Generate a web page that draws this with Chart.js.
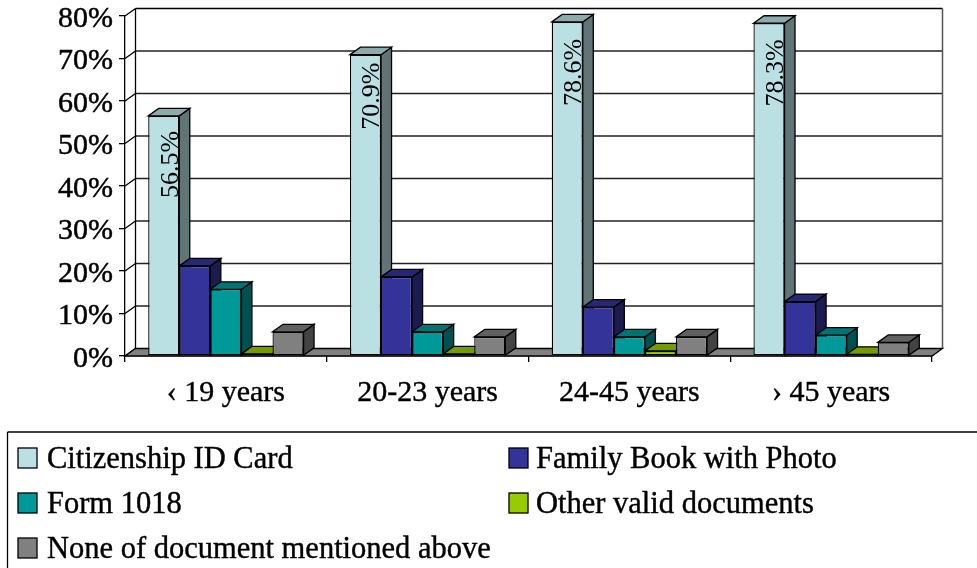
<!DOCTYPE html>
<html>
<head>
<meta charset="utf-8">
<title>Documents by age group</title>
<style>
  html, body { margin: 0; padding: 0; background: #fff; overflow: hidden; }
  canvas { display: block; }
</style>
<script src="https://cdn.jsdelivr.net/npm/chart.js@4/dist/chart.umd.min.js"></script>
</head>
<body>
<canvas id="chart" width="977" height="568"></canvas>
<script>
const categories = ['\u2039 19 years', '20-23 years', '24-45 years', '\u203A 45 years'];
const seriesNames = ['Citizenship ID Card', 'Family Book with Photo', 'Form 1018', 'Other valid documents', 'None of document mentioned above'];
const citizenshipCard = [56.5, 70.9, 78.6, 78.3];
const familyBook = [21.2, 18.6, 11.5, 12.8];
const form1018 = [15.7, 5.7, 4.5, 4.9];
const otherDocs = [0.5, 0.5, 1.2, 0.4];
const noDocument = [5.7, 4.5, 4.5, 3.2];
const yTicks = [0, 10, 20, 30, 40, 50, 60, 70, 80];
const colors = ['#BAE0E3', '#333399', '#009999', '#99CC00', '#808080'];

const FONT = '"Liberation Serif", serif';
// how far the 3D box is pushed back
const DEPTH_X = 10.5;
const DEPTH_Y = 7.5;
// the first-series labels do not sit at the same distance from the bar top
const labelDrop = [15, 8, 17, 16];

function shade(hex, f) {
  const n = parseInt(hex.slice(1), 16);
  const r = Math.round((n >> 16 & 255) * f);
  const g = Math.round((n >> 8 & 255) * f);
  const b = Math.round((n & 255) * f);
  return `rgb(${r},${g},${b})`;
}

function poly(ctx, pts, fill, stroke, lw) {
  ctx.beginPath();
  pts.forEach((p, i) => i ? ctx.lineTo(p[0], p[1]) : ctx.moveTo(p[0], p[1]));
  ctx.closePath();
  if (fill) {
    ctx.fillStyle = fill;
    ctx.fill();
  }
  if (stroke) {
    ctx.strokeStyle = stroke;
    ctx.lineWidth = lw;
    ctx.stroke();
  }
}

function line(ctx, x1, y1, x2, y2, color, lw) {
  ctx.beginPath();
  ctx.moveTo(x1, y1);
  ctx.lineTo(x2, y2);
  ctx.strokeStyle = color;
  ctx.lineWidth = lw;
  ctx.stroke();
}

const box3d = {
  id: 'box3d',
  beforeDatasetsDraw(chart) {
    const ctx = chart.ctx;
    const area = chart.chartArea;
    const y = chart.scales.y;
    ctx.save();

    // back wall and left wall lines
    yTicks.forEach(v => {
      const py = y.getPixelForValue(v);
      line(ctx, area.left, py, area.left + DEPTH_X, py - DEPTH_Y, '#000', 1.3);
      if (v > 0) {
        line(ctx, area.left + DEPTH_X, py - DEPTH_Y, area.right + DEPTH_X, py - DEPTH_Y, v === 80 ? '#000' : '#222', 1.3);
      }
    });
    line(ctx, area.left + DEPTH_X, area.top - DEPTH_Y, area.left + DEPTH_X, area.bottom - DEPTH_Y, '#000', 1.3);
    line(ctx, area.right + DEPTH_X, area.top - DEPTH_Y, area.right + DEPTH_X, area.bottom - DEPTH_Y, '#555', 1.5);

    // floor
    poly(ctx, [
      [area.left, area.bottom],
      [area.right, area.bottom],
      [area.right + DEPTH_X, area.bottom - DEPTH_Y],
      [area.left + DEPTH_X, area.bottom - DEPTH_Y]
    ], '#808080', '#000', 1.3);

    // side and top faces of the bars, the library draws the front faces on top
    categories.forEach((c, i) => {
      chart.data.datasets.forEach((ds, d) => {
        const bar = chart.getDatasetMeta(d).data[i];
        const p = bar.getProps(['x', 'y', 'base', 'width'], true);
        const l = p.x - p.width / 2;
        const r = p.x + p.width / 2;
        poly(ctx, [[r, p.y], [r + DEPTH_X, p.y - DEPTH_Y], [r + DEPTH_X, p.base - DEPTH_Y], [r, p.base]], shade(colors[d], 0.52), '#000', 1.3);
        poly(ctx, [[l, p.y], [r, p.y], [r + DEPTH_X, p.y - DEPTH_Y], [l + DEPTH_X, p.y - DEPTH_Y]], shade(colors[d], 0.76), '#000', 1.3);
      });
    });
    ctx.restore();
  },
  afterDatasetsDraw(chart) {
    const ctx = chart.ctx;
    const meta = chart.getDatasetMeta(0);
    ctx.save();
    ctx.fillStyle = '#000';
    ctx.font = '26px ' + FONT;
    ctx.textAlign = 'right';
    ctx.textBaseline = 'middle';
    citizenshipCard.forEach((v, i) => {
      const bar = meta.data[i].getProps(['x', 'y'], true);
      ctx.save();
      ctx.translate(bar.x + 7, bar.y + labelDrop[i]);
      ctx.rotate(-Math.PI / 2);
      ctx.fillText(v.toFixed(1) + '%', 0, 0);
      ctx.restore();
    });
    ctx.restore();
  },
  afterDraw(chart) {
    // two column legend box, runs off the right and bottom of the picture
    const ctx = chart.ctx;
    const left = 7.5;
    const top = 432;
    ctx.save();
    line(ctx, left, top, chart.width, top, '#000', 1.3);
    line(ctx, left, top, left, chart.height, '#000', 1.3);
    ctx.font = '30.5px ' + FONT;
    ctx.textAlign = 'left';
    ctx.textBaseline = 'middle';
    chart.data.datasets.forEach((ds, d) => {
      const x = d % 2 ? 509 : 18;
      const y = 458 + Math.floor(d / 2) * 45;
      ctx.fillStyle = ds.backgroundColor;
      ctx.fillRect(x, y - 10, 19, 20);
      ctx.strokeStyle = '#000';
      ctx.lineWidth = 1.3;
      ctx.strokeRect(x, y - 10, 19, 20);
      ctx.fillStyle = '#000';
      ctx.lineWidth = 0.4;
      ctx.strokeText(ds.label, d % 2 ? x + 27 : x + 29, y + 2);
      ctx.fillText(ds.label, d % 2 ? x + 27 : x + 29, y + 2);
    });
    ctx.restore();
  }
};

const seriesValues = [citizenshipCard, familyBook, form1018, otherDocs, noDocument];

new Chart(document.getElementById('chart'), {
  type: 'bar',
  data: {
    labels: categories,
    datasets: seriesNames.map((name, i) => ({
      label: name,
      data: seriesValues[i],
      backgroundColor: colors[i],
      borderColor: '#000',
      borderWidth: 1.3,
      borderSkipped: false,
      categoryPercentage: 0.77,
      barPercentage: 1
    }))
  },
  options: {
    responsive: false,
    animation: false,
    layout: { padding: { top: 16, right: 45, left: 0, bottom: 0 } },
    plugins: { legend: { display: false }, tooltip: { enabled: false } },
    scales: {
      x: {
        offset: true,
        grid: { offset: true, drawOnChartArea: false, color: '#000', tickLength: 6, lineWidth: 1.3 },
        border: { color: '#000', width: 1.3 },
        ticks: {
          color: '#000',
          font: { family: FONT, size: 30 },
          padding: 13,
          maxRotation: 0,
          textStrokeColor: '#000',
          textStrokeWidth: 0.4
        },
        afterFit(scale) { scale.height = 212; }
      },
      y: {
        min: 0,
        max: 80,
        grid: { drawOnChartArea: false, color: '#000', tickLength: 6, lineWidth: 1.3 },
        border: { color: '#000', width: 1.3 },
        ticks: {
          color: '#000',
          font: { family: FONT, size: 30 },
          padding: 6,
          stepSize: 10,
          labelOffset: 3,
          textStrokeColor: '#000',
          textStrokeWidth: 0.5,
          callback: v => v + '%'
        },
        afterFit(scale) {
          scale.width = 125;
          scale.paddingTop = 0;
          scale.paddingBottom = 0;
        }
      }
    }
  },
  plugins: [box3d]
});
</script>
</body>
</html>
